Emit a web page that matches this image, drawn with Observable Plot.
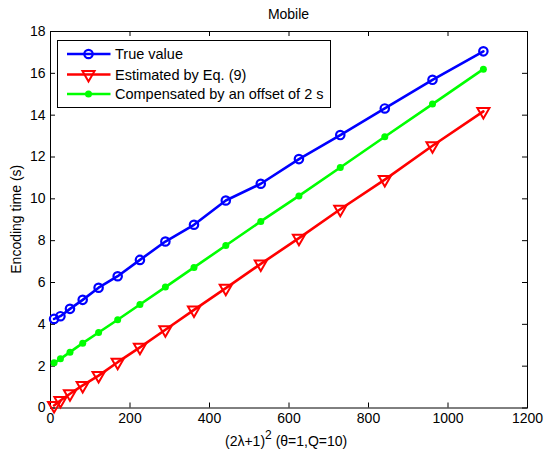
<!DOCTYPE html>
<html><head><meta charset="utf-8">
<script src="https://cdn.jsdelivr.net/npm/d3@7"></script>
<script src="https://cdn.jsdelivr.net/npm/@observablehq/plot@0.6"></script>
<style>
body{margin:0;background:#fff}
svg{font-family:"Liberation Sans",Arial,sans-serif}
</style>
</head><body><div id="chart"></div>
<script>
const xValues = [9,25,49,81,121,169,225,289,361,441,529,625,729,841,961,1089];
const trueValue = [4.26,4.39,4.74,5.17,5.75,6.30,7.08,7.96,8.76,9.92,10.72,11.90,13.05,14.32,15.69,17.05];
const estimated = [0.12,0.36,0.68,1.08,1.55,2.19,2.90,3.74,4.69,5.73,6.89,8.12,9.50,10.92,12.54,14.18];
const compensated = [2.16,2.35,2.67,3.10,3.61,4.22,4.95,5.78,6.72,7.77,8.92,10.14,11.50,12.97,14.53,16.20];
const seriesNames = ["True value","Estimated by Eq. (9)","Compensated by an offset of 2 s"];
const seriesColors = ["#0000ff","#ff0000","#00ff00"];
const xTicks = [0,200,400,600,800,1000,1200];
const yTicks = [0,2,4,6,8,10,12,14,16,18];
const titleText = "Mobile";
const yLabel = "Encoding time (s)";

const W = 545, H = 454, mL = 50, mR = 18, mT = 31, mB = 46.5;
const frameH = H - mT - mB, frameW = W - mL - mR;
const FS = 14;

const triangleDown = {
  draw(context, size) {
    const y = -Math.sqrt(size / (Math.sqrt(3) * 3));
    context.moveTo(0, -2 * y);
    context.lineTo(-Math.sqrt(3) * y, y);
    context.lineTo(Math.sqrt(3) * y, y);
    context.closePath();
  }
};

const toRows = (vals) => xValues.map((x, i) => ({x, y: vals[i]}));
const blue = toRows(trueValue), red = toRows(estimated), green = toRows(compensated);

const plot = Plot.plot({
  width: W, height: H,
  marginLeft: mL, marginRight: mR, marginTop: mT, marginBottom: mB,
  style: {fontFamily: '"Liberation Sans",Arial,sans-serif', fontSize: FS + "px", background: "#fff", overflow: "visible"},
  x: {domain: [0, 1200], axis: null},
  y: {domain: [0, 18], axis: null},
  marks: [
    Plot.frame({stroke: "black", strokeWidth: 1}),
    Plot.ruleX(xTicks, {x: d => d, insetTop: frameH - 5, stroke: "black"}),
    Plot.ruleX(xTicks, {x: d => d, insetBottom: frameH - 5, stroke: "black"}),
    Plot.ruleY(yTicks, {y: d => d, insetRight: frameW - 5, stroke: "black"}),
    Plot.ruleY(yTicks, {y: d => d, insetLeft: frameW - 5, stroke: "black"}),
    Plot.text(xTicks, {x: d => d, text: d => String(d), frameAnchor: "bottom", dy: 15, fill: "black", fontSize: FS}),
    Plot.text(yTicks, {y: d => d, text: d => String(d), frameAnchor: "left", textAnchor: "end", dx: -5, fill: "black", fontSize: FS}),
    Plot.line(blue, {x: "x", y: "y", stroke: seriesColors[0], strokeWidth: 2.6}),
    Plot.dot(blue, {x: "x", y: "y", r: 4.2, stroke: seriesColors[0], strokeWidth: 2.2, fill: "none"}),
    Plot.line(red, {x: "x", y: "y", stroke: seriesColors[1], strokeWidth: 2.6}),
    Plot.dot(red, {x: "x", y: "y", r: 4.5, symbol: triangleDown, stroke: seriesColors[1], strokeWidth: 2, fill: "none"}),
    Plot.line(green, {x: "x", y: "y", stroke: seriesColors[2], strokeWidth: 2.6}),
    Plot.dot(green, {x: "x", y: "y", r: 3.5, fill: seriesColors[2], stroke: "none"})
  ]
});
document.getElementById("chart").appendChild(plot);

const svg = d3.select(plot);
// title
svg.append("text").attr("x", mL + frameW / 2).attr("y", 19).attr("text-anchor", "middle")
  .attr("font-size", FS).attr("fill", "black").text(titleText);
// y label
svg.append("text").attr("transform", `translate(20.5,${mT + frameH / 2}) rotate(-90)`)
  .attr("text-anchor", "middle").attr("font-size", FS).attr("fill", "black").text(yLabel);
// x label with superscript
const xl = svg.append("text").attr("x", 225).attr("y", 446).attr("text-anchor", "start").attr("font-size", FS).attr("fill", "black");
xl.append("tspan").text("(2λ+1)");
xl.append("tspan").attr("dy", -7).attr("font-size", 12).text("2");
xl.append("tspan").attr("dy", 7).text(" (θ=1,Q=10)");

// legend
const lg = svg.append("g");
lg.append("rect").attr("x", 57.5).attr("y", 40.5).attr("width", 273).attr("height", 67)
  .attr("fill", "#fff").attr("stroke", "black").attr("stroke-width", 1);
const rowsY = [54, 74.5, 94];
const symT = d3.symbol(triangleDown, Math.PI * 4.5 * 4.5)();
seriesNames.forEach((name, i) => {
  const y = rowsY[i];
  lg.append("line").attr("x1", 67).attr("x2", 110.5).attr("y1", y).attr("y2", y)
    .attr("stroke", seriesColors[i]).attr("stroke-width", 2.6);
  if (i === 0) lg.append("circle").attr("cx", 88.5).attr("cy", y).attr("r", 4.2)
    .attr("fill", "none").attr("stroke", seriesColors[i]).attr("stroke-width", 2.2);
  if (i === 1) lg.append("path").attr("d", symT).attr("transform", `translate(88.5,${y})`)
    .attr("fill", "none").attr("stroke", seriesColors[i]).attr("stroke-width", 2);
  if (i === 2) lg.append("circle").attr("cx", 88.5).attr("cy", y).attr("r", 3.5).attr("fill", seriesColors[i]);
  lg.append("text").attr("x", 115).attr("y", y).attr("dy", "0.35em").attr("text-anchor", "start")
    .attr("font-size", 14.5).attr("fill", "black").text(name);
});
</script>
</body></html>
